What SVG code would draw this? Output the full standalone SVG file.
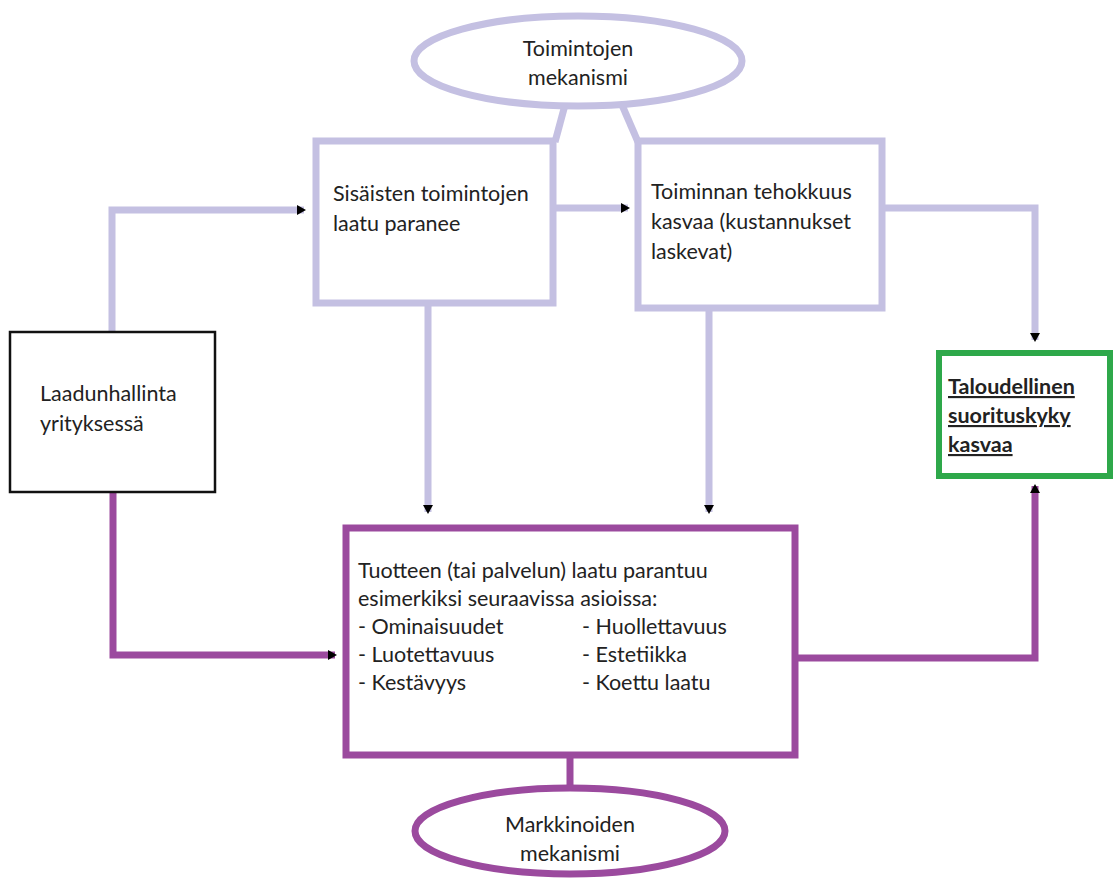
<svg xmlns="http://www.w3.org/2000/svg" width="1117" height="882" viewBox="0 0 1117 882">
<style>
text{font-family:Lato,"Liberation Sans",sans-serif;font-size:21.5px;fill:#222}
.lav{fill:none;stroke:#c4c0e2;stroke-width:7}
.pur{fill:none;stroke:#9b4a9e;stroke-width:7}
.c{text-anchor:middle}
.b{font-weight:bold;text-decoration:underline}
</style>
<defs>
<marker id="ah" markerWidth="10" markerHeight="10" refX="7" refY="5" orient="auto" markerUnits="userSpaceOnUse"><path d="M0,0 L9,5 L0,10 z" fill="#000"/></marker>
</defs>
<rect width="1117" height="882" fill="#fff"/>
<g id="connectors">
<path class="lav" d="M565,105 L555,142"/>
<path class="lav" d="M622,105 L638,142"/>
<path class="lav" d="M112,332 L112,210 L304,210" marker-end="url(#ah)"/>
<path class="lav" d="M553,208 L628,208" marker-end="url(#ah)"/>
<path class="lav" d="M882,208 L1035,208 L1035,340" marker-end="url(#ah)"/>
<path class="lav" d="M428,303 L428,512" marker-end="url(#ah)"/>
<path class="lav" d="M709,308 L709,512" marker-end="url(#ah)"/>
<path class="pur" d="M113,492 L113,655 L335,655" marker-end="url(#ah)"/>
<path class="pur" d="M795,658 L1035,658 L1035,486" marker-end="url(#ah)"/>
<path class="pur" d="M570,755 L570,790"/>
</g>
<g id="toimintojen-mekanismi">
<ellipse class="lav" cx="578" cy="61" rx="164" ry="45" fill="#fff" stroke-width="8"/>
<text class="c" x="578" y="56">Toimintojen</text>
<text class="c" x="578" y="85">mekanismi</text>
</g>
<g id="sisaisten">
<rect class="lav" x="316" y="141" width="237" height="162" fill="#fff"/>
<text x="333" y="201">Sisäisten toimintojen</text>
<text x="333" y="231">laatu paranee</text>
</g>
<g id="toiminnan">
<rect class="lav" x="638" y="141" width="244" height="167" fill="#fff"/>
<text x="651" y="199">Toiminnan tehokkuus</text>
<text x="651" y="229">kasvaa (kustannukset</text>
<text x="651" y="259">laskevat)</text>
</g>
<g id="laadunhallinta">
<rect x="10" y="332" width="205" height="160" fill="#fff" stroke="#111" stroke-width="2.5"/>
<text x="40" y="401">Laadunhallinta</text>
<text x="40" y="431">yrityksessä</text>
</g>
<g id="taloudellinen">
<rect x="939" y="353" width="171" height="123" fill="#fff" stroke="#2ea84a" stroke-width="6"/>
<text class="b" x="948" y="394">Taloudellinen</text>
<text class="b" x="948" y="423">suorituskyky</text>
<text class="b" x="948" y="452">kasvaa</text>
</g>
<g id="tuotteen">
<rect class="pur" x="346" y="528" width="449" height="227" fill="#fff"/>
<text x="358" y="578">Tuotteen (tai palvelun) laatu parantuu</text>
<text x="358" y="606">esimerkiksi seuraavissa asioissa:</text>
<text x="358" y="634">- Ominaisuudet</text>
<text x="358" y="662">- Luotettavuus</text>
<text x="358" y="690">- Kestävyys</text>
<text x="582" y="634">- Huollettavuus</text>
<text x="582" y="662">- Estetiikka</text>
<text x="582" y="690">- Koettu laatu</text>
</g>
<g id="markkinoiden-mekanismi">
<ellipse class="pur" cx="570" cy="831" rx="155" ry="43" fill="#fff" stroke-width="8"/>
<text class="c" x="570" y="832">Markkinoiden</text>
<text class="c" x="570" y="861">mekanismi</text>
</g>
</svg>
